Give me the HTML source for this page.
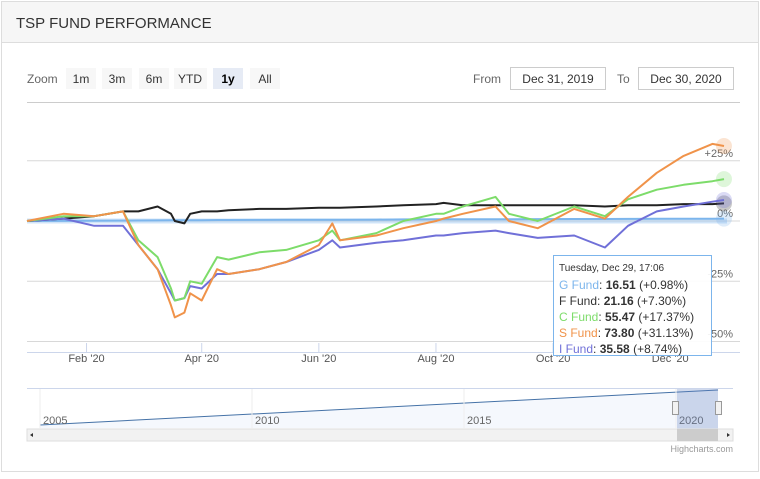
<!DOCTYPE html>
<html><head><meta charset="utf-8"><style>
body{margin:0;background:#fff;font-family:"Liberation Sans",sans-serif;}
#wrap{position:relative;width:760px;height:479px;overflow:hidden;}
</style></head><body>
<div id="wrap">
<svg id="svg" width="760" height="479" xmlns="http://www.w3.org/2000/svg" style="position:absolute;left:0;top:0;font-family:'Liberation Sans',sans-serif">
<rect x="1.5" y="1.5" width="757" height="470" fill="#fff" stroke="#ddd"/>
<rect x="2" y="2" width="756" height="40" fill="#f6f6f6"/>
<line x1="2" y1="42.5" x2="758" y2="42.5" stroke="#ddd"/>
<text x="16" y="28" font-size="15" fill="#333">TSP FUND PERFORMANCE</text>
<text x="27" y="83" font-size="12" fill="#666">Zoom</text>
<g><rect x="66" y="68" width="30" height="21" fill="#f7f7f7"/><text x="81" y="83" font-size="12" fill="#333" text-anchor="middle">1m</text></g>
<g><rect x="102" y="68" width="30" height="21" fill="#f7f7f7"/><text x="117" y="83" font-size="12" fill="#333" text-anchor="middle">3m</text></g>
<g><rect x="139" y="68" width="30" height="21" fill="#f7f7f7"/><text x="154" y="83" font-size="12" fill="#333" text-anchor="middle">6m</text></g>
<g><rect x="174" y="68" width="33" height="21" fill="#f7f7f7"/><text x="190" y="83" font-size="12" fill="#333" text-anchor="middle">YTD</text></g>
<g><rect x="213" y="68" width="30" height="21" fill="#e6ebf5"/><text x="228" y="83" font-size="12" fill="#000" font-weight="bold" text-anchor="middle">1y</text></g>
<g><rect x="250" y="68" width="30" height="21" fill="#f7f7f7"/><text x="265" y="83" font-size="12" fill="#333" text-anchor="middle">All</text></g>
<text x="473" y="83" font-size="12" fill="#666">From</text>
<g><rect x="510.5" y="67.5" width="95" height="22" fill="#fff" stroke="#ccc"/><text x="558" y="83" font-size="12" fill="#333" text-anchor="middle">Dec 31, 2019</text></g>
<text x="617" y="83" font-size="12" fill="#666">To</text>
<g><rect x="638.5" y="67.5" width="95" height="22" fill="#fff" stroke="#ccc"/><text x="686" y="83" font-size="12" fill="#333" text-anchor="middle">Dec 30, 2020</text></g>
<g id="plot"></g>
<g id="nav"></g>
</svg>
</div>
<script>
const NS="http://www.w3.org/2000/svg";
// day-of-year for each sample point
const days=[0,19,35,50,58,68,75,77,82,85,91,99,105,121,135,152,159,163,182,196,213,217,227,244,251,266,285,301,313,328,342,357,363];
const sFund=[0,3,2,4,-10,-20,-35,-40,-38,-30,-33,-20,-22,-20,-17,-10,-1,-8,-6,-3,0,1,3,6,0,-3,5,1,10,20,27,32,31.1];
const cFund=[0,2,2,4,-8,-15,-28,-33,-32,-25,-26,-15,-16,-13,-12,-8,-4,-8,-5,0,3,3,6,10,3,0,6,2,9,13,15,16.5,17.4];
const iFund=[0,1,-2,-2,-10,-20,-30,-33,-32,-27,-28,-22,-22,-20,-17,-12,-8,-11,-9,-8,-6,-6,-5,-4,-5,-7,-6,-11,-2,4,6,8,8.7];
const fFund=[0,1,2,4,4,6,3,0,-1,3,4,4,4.5,5,5,5.5,5.5,5.5,6,6.5,7,7.5,6.5,6.5,6.5,6.5,6.5,6,6.5,6.5,7,7,7.3];
const gFund=[0,0.05,0.1,0.15,0.2,0.25,0.3,0.3,0.3,0.32,0.35,0.4,0.4,0.45,0.5,0.55,0.55,0.55,0.6,0.65,0.7,0.7,0.7,0.75,0.75,0.8,0.82,0.85,0.88,0.9,0.94,0.97,0.98];
const yTicks=[25,0,-25,-50];
const xTickDays=[31,91,152,213,274,335];
const xTickLabels=["Feb '20","Apr '20","Jun '20","Aug '20","Oct '20","Dec '20"];
const navYears=[2005,2010,2015,2020];
const X=d=>27+d*1.92;
const Y=v=>221-v*2.41;
const plot=document.getElementById('plot');
function mk(tag,attrs,parent){const e=document.createElementNS(NS,tag);for(const k in attrs)e.setAttribute(k,attrs[k]);(parent||plot).appendChild(e);return e;}
let e=mk('line',{x1:27,y1:102.5,x2:740,y2:102.5,stroke:'#ccc'});


yTicks.forEach(t=>{
 let l=mk('line',{x1:27,y1:Y(t),x2:740,y2:Y(t),stroke:'#d8d8d8'});
 
 
 let tx=mk('text',{x:733,y:Y(t)-4,'font-size':11,fill:'#666','text-anchor':'end'});
 tx.textContent=(t>0?'+':'')+t+'%';
 
 
});
let ax=mk('line',{x1:27,y1:352.5,x2:740,y2:352.5,stroke:'#ccd6eb'});


xTickDays.forEach((d,i)=>{
 let tk=mk('line',{x1:X(d),y1:343,x2:X(d),y2:352,stroke:'#ccd6eb'});
 
 
 let tx=mk('text',{x:X(d),y:362,'font-size':11,fill:'#555','text-anchor':'middle'});
 tx.textContent=xTickLabels[i];
 
 
});
function series(vals,color,w,name){
 const p=mk('path',{d:vals.map((v,i)=>(i?'L':'M')+X(days[i]).toFixed(1)+' '+Y(v).toFixed(1)).join(''),fill:'none',stroke:color,'stroke-width':w,'stroke-linejoin':'round'});
 
 
 const last=vals.length-1;
 const h=mk('circle',{cx:X(days[last]),cy:Y(vals[last]),r:8,fill:color,opacity:0.25});
 
 
}
mk('line',{x1:27,y1:Y(0),x2:727,y2:Y(0),stroke:'#7cb5ec',opacity:0.35,'stroke-width':5});
series(gFund,'#7cb5ec',2,'g-fund-line');
series(fFund,'#222',2,'f-fund-line');
series(iFund,'#7070d8',2,'i-fund-line');
series(cFund,'#7ddc6a',2,'c-fund-line');
series(sFund,'#f0934a',2,'s-fund-line');
// tooltip
const tg=mk('g',{});


mk('rect',{x:553.5,y:255.5,width:158,height:100,fill:'rgba(255,255,255,0.92)',stroke:'#7cb5ec'},tg);
let tt=mk('text',{x:559,y:271,'font-size':10,fill:'#333'},tg);tt.textContent='Tuesday, Dec 29, 17:06';
const tipNames=['G Fund','F Fund','C Fund','S Fund','I Fund'];
const tipVals=['16.51','21.16','55.47','73.80','35.58'];
const tipPct=['(+0.98%)','(+7.30%)','(+17.37%)','(+31.13%)','(+8.74%)'];
const tipCol=['#7cb5ec','#333','#7ddc6a','#f0934a','#7070d8'];
tipNames.forEach((n,i)=>{
 const t=mk('text',{x:559,y:289+i*16,'font-size':12,fill:'#333'},tg);
 t.innerHTML='<tspan fill="'+tipCol[i]+'">'+n+'</tspan>: <tspan font-weight="bold">'+tipVals[i]+'</tspan> '+tipPct[i];
});
// navigator
const nav=document.getElementById('nav');
mk('line',{x1:27,y1:388.5,x2:733,y2:388.5,stroke:'#ccd6eb'},nav);
mk('path',{d:'M40 425 L718 390 L718 428 L40 428Z',fill:'#eef3fb',opacity:0.6},nav);
mk('line',{x1:40,y1:425,x2:718,y2:390,stroke:'#4572a7','stroke-width':1},nav);
navYears.forEach((yr,i)=>{
 const nx=40+i*212;
 mk('line',{x1:nx,y1:389,x2:nx,y2:428,stroke:'#eee'},nav);
 const t=mk('text',{x:nx+3,y:424,'font-size':11,fill:'#666'},nav);t.textContent=yr;
});
mk('rect',{x:677,y:389,width:41,height:40,fill:'rgba(102,133,194,0.3)'},nav);
mk('rect',{x:672.5,y:401.5,width:6,height:13,fill:'#f2f2f2',stroke:'#999'},nav);
mk('rect',{x:715.5,y:401.5,width:6,height:13,fill:'#f2f2f2',stroke:'#999'},nav);
const sb=mk('g',{},nav);


mk('rect',{x:27,y:429,width:706,height:12,fill:'#f2f2f2',stroke:'#ddd'},sb);
mk('rect',{x:677,y:429,width:41,height:12,fill:'#ccc'},sb);
mk('path',{d:'M33 433 L30 435 L33 437Z',fill:'#333'},sb);
mk('path',{d:'M727 433 L730 435 L727 437Z',fill:'#333'},sb);
const cr=mk('text',{x:733,y:452,'font-size':9,fill:'#999','text-anchor':'end'},nav);cr.textContent='Highcharts.com';


</script>
</body></html>
